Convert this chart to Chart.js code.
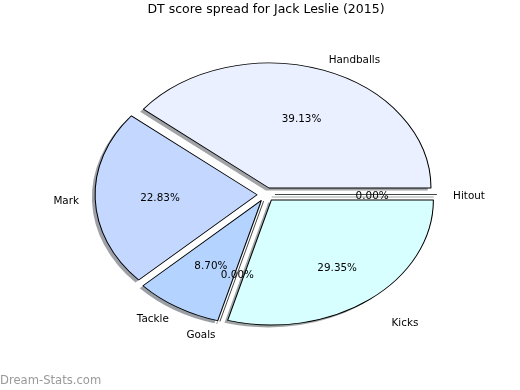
<!DOCTYPE html>
<html>
<head>
<meta charset="utf-8">
<script src="https://cdn.jsdelivr.net/npm/chart.js@4"></script>
<style>
  html, body { margin: 0; padding: 0; background: #fff; }
  canvas { display: block; }
</style>
</head>
<body>
<canvas id="my-chart" width="520" height="390"></canvas>
<script>
// Data (clockwise from east, as the original is drawn anticlockwise from east)
const categories = ["Hitout", "Kicks", "Goals", "Tackle", "Mark", "Handballs"];
const points = [0, 27, 0, 8, 21, 36];
const sliceColors = ["#d8ffff", "#d8ffff", "#b4d4ff", "#b4d4ff", "#c4d8ff", "#eaf0ff"];

const titleText = "DT score spread for Jack Leslie (2015)";
const watermark = "Dream-Stats.com";

// Pie look
const RX = 162;
const RY = 125;
const EXPLODE = 0.055;
const LABEL_DIST = 1.1;
const PCT_DIST = 0.6;
const labelStretch = [1, 1.11, 1, 1, 1, 1]; // the Kicks texts sit further out
const SHADOW_DX = -3.2;
const SHADOW_DY = 2.5;
const FONT = "DejaVu Sans";

const total = points.reduce((a, b) => a + b, 0);

function shadowOf(hex) {
	const n = parseInt(hex.slice(1), 16);
	const r = Math.round(((n >> 16) & 255) * 0.3);
	const g = Math.round(((n >> 8) & 255) * 0.3);
	const b = Math.round((n & 255) * 0.3);
	return "rgba(" + r + "," + g + "," + b + ",0.5)";
}

const pieShape = {
	id: "pieShape",
	beforeDatasetsDraw(chart) {
		const ctx = chart.ctx;
		const arcs = chart.getDatasetMeta(0).data;
		const cx = arcs[0].x;
		const cy = arcs[0].y;
		const R = arcs[0].outerRadius;

		function place(dx, dy) {
			ctx.translate(dx, dy);
			ctx.translate(cx, cy);
			ctx.scale(RX / R, RY / R);
			ctx.translate(-cx, -cy);
		}

		function slicePath(arc) {
			ctx.beginPath();
			ctx.moveTo(cx, cy);
			if (arc.circumference === 0) {
				ctx.lineTo(cx + Math.cos(arc.startAngle) * R, cy + Math.sin(arc.startAngle) * R);
			} else {
				ctx.arc(cx, cy, R, arc.startAngle, arc.endAngle);
				ctx.closePath();
			}
		}

		// shadows first
		arcs.forEach((arc, i) => {
			const mid = (arc.startAngle + arc.endAngle) / 2;
			ctx.save();
			place(SHADOW_DX, SHADOW_DY);
			ctx.translate(Math.cos(mid) * EXPLODE * R, Math.sin(mid) * EXPLODE * R);
			slicePath(arc);
			ctx.fillStyle = shadowOf(sliceColors[i]);
			ctx.strokeStyle = shadowOf(sliceColors[i]);
			ctx.lineWidth = 1;
			if (arc.circumference === 0) ctx.stroke();
			else ctx.fill();
			ctx.restore();
		});

		// slices
		arcs.forEach((arc) => {
			const mid = (arc.startAngle + arc.endAngle) / 2;
			ctx.save();
			place(0, 0);
			ctx.translate(Math.cos(mid) * EXPLODE * R, Math.sin(mid) * EXPLODE * R);
			if (arc.circumference === 0) {
				slicePath(arc);
				ctx.strokeStyle = "#000";
				ctx.lineWidth = 0.8;
				ctx.stroke();
			} else {
				arc.draw(ctx);
			}
			ctx.restore();
		});
		return false;
	},
	afterDraw(chart) {
		const ctx = chart.ctx;
		const arcs = chart.getDatasetMeta(0).data;
		const cx = arcs[0].x;
		const cy = arcs[0].y + 1.5;

		ctx.save();
		ctx.fillStyle = "#000";
		ctx.font = "10.4px '" + FONT + "'";
		ctx.textBaseline = "middle";
		arcs.forEach((arc, i) => {
			const mid = (arc.startAngle + arc.endAngle) / 2;
			const c = Math.cos(mid);
			const s = Math.sin(mid);
			const k = labelStretch[i];

			const lx = cx + (EXPLODE + LABEL_DIST) * k * RX * c;
			const ly = cy + (EXPLODE + LABEL_DIST) * k * RY * s;
			ctx.textAlign = c > 0 ? "left" : "right";
			ctx.fillText(categories[i], lx, ly);

			const px = cx + (EXPLODE + PCT_DIST) * k * RX * c;
			const py = cy + (EXPLODE + PCT_DIST) * k * RY * s;
			ctx.textAlign = "center";
			ctx.fillText(((points[i] / total) * 100).toFixed(2) + "%", px, py);
		});

		ctx.fillStyle = "#999";
		ctx.font = "11.6px '" + FONT + "'";
		ctx.textAlign = "left";
		ctx.fillText(watermark, 0, 380.5);
		ctx.restore();
	},
};

const ctx = document.getElementById("my-chart").getContext("2d");

const data = {
	labels: categories,
	datasets: [
		{
			data: points,
			backgroundColor: sliceColors,
			borderColor: "#000",
			borderWidth: 1,
		},
	],
};

const config = {
	type: "pie",
	data: data,
	options: {
		responsive: false,
		animation: false,
		rotation: 90,
		layout: {
			padding: { left: 12, right: 0, top: 0, bottom: 38.5 },
		},
		plugins: {
			legend: { display: false },
			tooltip: { enabled: false },
			title: {
				display: true,
				text: titleText,
				color: "#000",
				font: { family: FONT, size: 12.5, weight: "normal" },
				padding: { top: 2.5, bottom: 20 },
			},
		},
	},
	plugins: [pieShape],
};

new Chart(ctx, config);
</script>
</body>
</html>
